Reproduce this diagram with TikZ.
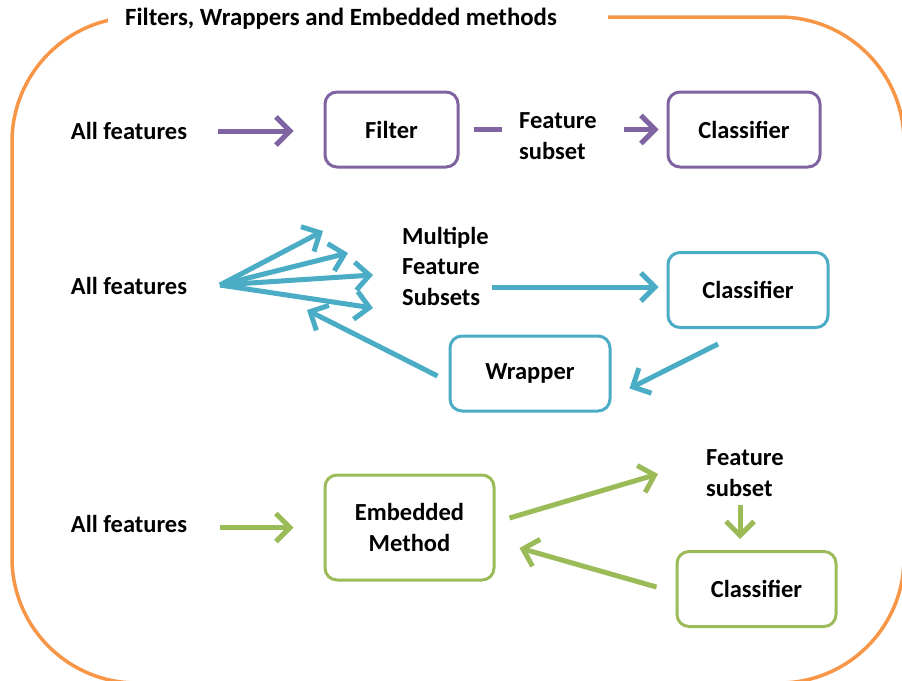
\documentclass[tikz,border=0pt]{standalone}
\usepackage{fontspec}
\setmainfont{Carlito}
\usetikzlibrary{arrows.meta,calc}
\definecolor{framec}{HTML}{F79646}
\definecolor{purplec}{HTML}{8064A2}
\definecolor{tealc}{HTML}{4BACC6}
\definecolor{greenc}{HTML}{9BBB59}
\begin{document}
\begin{tikzpicture}[x=1pt,y=-1pt,
  lbl/.style={inner sep=0pt, font=\fontsize{24.5}{30.5}\selectfont\bfseries},
  boxbase/.style={draw, rounded corners=12pt, line width=3pt, fill=white, inner sep=0pt,
    minimum width=133pt, minimum height=75pt, font=\fontsize{24.5}{30.5}\selectfont\bfseries},
  pbox/.style={boxbase, draw=purplec},
  tbox/.style={boxbase, draw=tealc},
  gbox/.style={boxbase, draw=greenc},
  arrbase/.style={line width=5pt, -{Straight Barb[length=14pt,width=28pt]}},
  parrow/.style={arrbase, purplec},
  pline/.style={line width=5pt, purplec},
  tarrow/.style={arrbase, tealc},
  garrow/.style={arrbase, greenc}]
\useasboundingbox (0,0) rectangle (902,680);

% outer frame with a gap for the heading
\draw[framec, line width=3.5pt, rounded corners=125pt] (12,17) rectangle (904,683);
\fill[white] (108,0) rectangle (608,30);
\node[lbl, anchor=west, font=\fontsize{24.8}{28}\selectfont\bfseries] (title) at (125,19)
  {Filters, Wrappers and Embedded methods};

% filter method
\node[lbl] (all1) at (129,131) {All features};
\node[pbox] (filter) at (391.5,129.5) {Filter};
\node[lbl, align=left, anchor=west] (fsub1) at (519,136) {Feature\\subset};
\node[pbox, minimum width=152pt] (class1) at (744,129.5) {Classifier};
\draw[parrow, shorten <=31pt, shorten >=30pt] (all1.east) -- (all1.east -| filter.west);
\draw[pline, shorten <=14pt, shorten >=17pt] (filter.east) -- (filter.east -| fsub1.west);
\draw[parrow, shorten <=27pt, shorten >=8pt] (fsub1.east |- class1.west) -- (class1.west);

% wrapper method
\node[lbl] (all2) at (129,286) {All features};
\coordinate (fan) at (220,285);
\coordinate (t1) at (323,231);
\coordinate (t2) at (348,253);
\coordinate (t3) at (373,275);
\coordinate (t4) at (373,308);
\coordinate (t5) at (307,310);
\coordinate (r2) at (0,287);
\draw[tarrow] (fan) -- (t1);
\draw[tarrow] (fan) -- (t2);
\draw[tarrow] (fan) -- (t3);
\draw[tarrow] (fan) -- (t4);
\node[lbl, align=left, anchor=west] (msub) at (402,266) {Multiple\\Feature\\Subsets};
\node[tbox, minimum width=160pt] (class2) at (748,290) {Classifier};
\node[tbox, minimum width=160pt] (wrapper) at (530,373.5) {Wrapper};
\draw[tarrow, shorten <=3pt, shorten >=8pt] (msub.east |- r2) -- (class2.west |- r2);
\draw[tarrow] ($(class2.south)+(-30,15)$) -- ($(wrapper.east)+(18,15)$);
\draw[tarrow] ($(wrapper.west)+(-11,2.5)$) -- (t5);

% embedded method
\node[lbl] (all3) at (129,524) {All features};
\node[gbox, minimum width=169pt, minimum height=105pt, align=center] (emb) at (409.5,527.5) {Embedded\\Method};
\node[lbl, align=left, anchor=west] (fsub3) at (706,473) {Feature\\subset};
\node[gbox, minimum width=159pt] (class3) at (756.5,589) {Classifier};
\draw[garrow, shorten <=33pt, shorten >=30pt] (all3.east |- emb.west) -- (emb.west);
\draw[garrow] ($(emb.east)+(14,-9.5)$) -- ($(fsub3.west)+(-48,1)$);
\draw[garrow] ($(fsub3.west)+(34,32)$) -- ($(class3.north)+(-16.5,-11)$);
\draw[garrow] ($(class3.west)+(-19,-2)$) -- ($(emb.east)+(24,20.5)$);
\end{tikzpicture}
\end{document}
